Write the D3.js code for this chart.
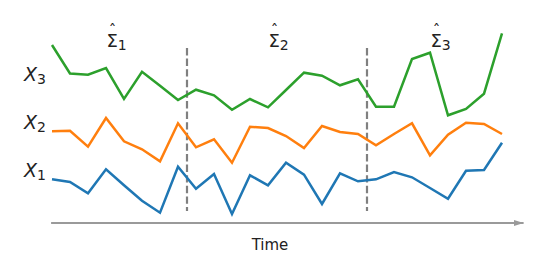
<!DOCTYPE html>
<html>
<head>
<meta charset="utf-8">
<script src="https://cdn.jsdelivr.net/npm/d3@7"></script>
<style>
  html, body { margin: 0; padding: 0; background: #fff; }
  svg { display: block; font-family: "DejaVu Sans", sans-serif; }
</style>
</head>
<body>
<div id="chart"></div>
<script>
// values (arbitrary units, 0 = time axis)
const steps = d3.range(26);
const x1Values = [4.37, 4.10, 2.97, 5.37, 3.77, 2.23, 1.03, 5.63, 3.43, 4.90, 0.90, 4.77, 3.77,
                  6.03, 4.83, 1.90, 4.97, 4.17, 4.37, 5.10, 4.57, 3.50, 2.43, 5.23, 5.30, 8.03];
const x2Values = [9.17, 9.23, 7.63, 10.50, 8.17, 7.37, 6.17, 9.97, 7.57, 8.37, 6.03, 9.63, 9.50,
                  8.70, 7.50, 9.70, 9.10, 8.90, 7.77, 8.90, 9.97, 6.77, 8.83, 10.03, 9.90, 8.90];
const x3Values = [17.80, 14.95, 14.83, 15.50, 12.40, 15.13, 13.73, 12.30, 13.33, 12.77, 11.33, 12.40, 11.57,
                  13.30, 15.03, 14.73, 13.77, 14.37, 11.63, 11.63, 16.40, 17.03, 10.77, 11.40, 12.93, 18.97];
const breakpoints = [7.5, 17.5];
const segmentLabels = ["1", "2", "3"];
const segmentCenters = [3.8, 12.8, 21.8];

const width = 540, height = 270;

const x = d3.scaleLinear().domain([0, 25]).range([52, 502]);
const y = d3.scaleLinear().domain([0, 20]).range([223, 23]);

const svg = d3.select('#chart').append('svg')
  .attr('width', width)
  .attr('height', height);

svg.append('defs').html(`
  <marker id="arrow" viewBox="0 0 10 6" refX="10" refY="3" markerWidth="10" markerHeight="6"
          markerUnits="userSpaceOnUse" orient="auto">
    <path d="M0,0 L10,3 L0,6 Z" fill="#9a9a9a"/>
  </marker>
`);

// time axis with arrow
svg.append('line')
  .attr('x1', x(-0.05)).attr('x2', x(26.2))
  .attr('y1', y(0)).attr('y2', y(0))
  .attr('stroke', '#9a9a9a')
  .attr('stroke-width', 2)
  .attr('marker-end', 'url(#arrow)');

svg.append('text')
  .attr('x', 270).attr('y', 250)
  .attr('text-anchor', 'middle')
  .attr('font-size', 15)
  .attr('fill', '#222')
  .text('Time');

// change points
svg.selectAll('line.brk')
  .data(breakpoints)
  .enter().append('line')
  .attr('class', 'brk')
  .attr('x1', d => x(d)).attr('x2', d => x(d))
  .attr('y1', y(17.5)).attr('y2', y(1.2))
  .attr('stroke', '#808080')
  .attr('stroke-width', 2.2)
  .attr('stroke-dasharray', '7.4,3.2');

const line = d3.line()
  .x((d, i) => x(steps[i]))
  .y(d => y(d));

const series = [
  { values: x1Values, color: '#1f77b4' },
  { values: x2Values, color: '#ff7f0e' },
  { values: x3Values, color: '#2ca02c' }
];

svg.selectAll('path.series')
  .data(series)
  .enter().append('path')
  .attr('class', 'series')
  .attr('d', d => line(d.values))
  .attr('fill', 'none')
  .attr('stroke', d => d.color)
  .attr('stroke-width', 2.5)
  .attr('stroke-linejoin', 'miter');

// variable labels
const varLabels = [
  { sub: '3', base: 81 },
  { sub: '2', base: 129 },
  { sub: '1', base: 177 }
];
varLabels.forEach(l => {
  const t = svg.append('text')
    .attr('x', 24).attr('y', l.base)
    .attr('font-size', 19)
    .attr('fill', '#222');
  t.append('tspan').attr('font-style', 'italic').text('X');
  t.append('tspan').attr('font-size', 14).attr('dy', 3).text(l.sub);
});

// covariance estimate labels
segmentLabels.forEach((s, i) => {
  const left = x(segmentCenters[i]) - 14;
  const t = svg.append('text')
    .attr('x', left).attr('y', 47)
    .attr('font-size', 18)
    .attr('fill', '#222');
  t.append('tspan').text('Σ');
  t.append('tspan').attr('font-size', 14).attr('dy', 3).text(s);
  svg.append('text')
    .attr('x', left + 6).attr('y', 36)
    .attr('text-anchor', 'middle')
    .attr('font-size', 15)
    .attr('fill', '#222')
    .text('ˆ');
});
</script>
</body>
</html>
